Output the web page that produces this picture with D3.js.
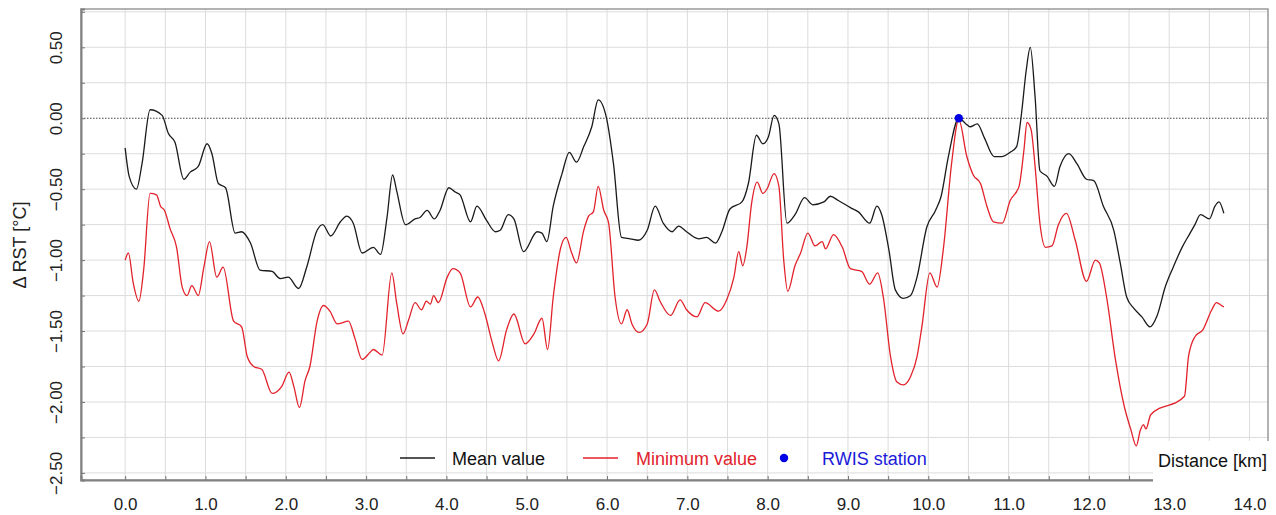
<!DOCTYPE html>
<html lang="en">
  <head>
    <meta charset="UTF-8" />
    <title>Delta RST along route</title>
    <script src="https://d3js.org/d3.v7.min.js"></script>
    <style>
      body {
        margin: 0;
        background-color: white;
      }
      svg {
        display: block;
        font-family: "Liberation Sans", Arial, sans-serif;
      }
      .grid line {
        stroke: #dcdcdc;
        stroke-width: 1px;
      }
      .tick text {
        font-size: 17px;
        fill: #222;
      }
    </style>
  </head>
  <body>
    <svg id="chart" width="1276" height="515"></svg>
    <script>
      // Mean value series (km, delta RST)
      const meanKm = [
        0.0, 0.05, 0.14, 0.21, 0.31, 0.46, 0.54, 0.62, 0.73, 0.81, 0.91, 1.02, 1.08, 1.16, 1.25, 1.37, 1.45, 1.56,
        1.68, 1.83, 1.93, 2.03, 2.16, 2.26, 2.39, 2.46, 2.56, 2.68, 2.76, 2.84, 2.95, 3.09, 3.18, 3.26, 3.33, 3.38,
        3.49, 3.61, 3.67, 3.76, 3.85, 3.92, 4.03, 4.11, 4.17, 4.3, 4.38, 4.5, 4.61, 4.67, 4.77, 4.84, 4.96, 5.13,
        5.19, 5.25, 5.33, 5.44, 5.53, 5.62, 5.71, 5.81, 5.89, 5.99, 6.08, 6.18, 6.29, 6.39, 6.5, 6.6, 6.7, 6.81,
        6.89, 6.99, 7.14, 7.24, 7.35, 7.43, 7.53, 7.68, 7.76, 7.86, 7.94, 8.01, 8.08, 8.14, 8.24, 8.34, 8.46, 8.56,
        8.7, 8.78, 8.88, 9.03, 9.13, 9.27, 9.36, 9.42, 9.51, 9.59, 9.69, 9.78, 9.86, 9.98, 10.09, 10.16, 10.25,
        10.38, 10.47, 10.52, 10.61, 10.7, 10.82, 10.92, 11.02, 11.1, 11.16, 11.22, 11.27, 11.33, 11.39, 11.48,
        11.57, 11.64, 11.75, 11.85, 11.97, 12.06, 12.18, 12.31, 12.39, 12.47, 12.56, 12.66, 12.76, 12.85, 12.95,
        13.05, 13.16, 13.26, 13.32, 13.39, 13.5, 13.57, 13.62, 13.68,
      ];
      const meanVal = [
        -0.21, -0.41, -0.5, -0.32, 0.06, 0.02, -0.11, -0.17, -0.43, -0.38, -0.34, -0.18, -0.25, -0.46, -0.49, -0.81,
        -0.8, -0.88, -1.07, -1.08, -1.13, -1.12, -1.2, -1.05, -0.79, -0.75, -0.83, -0.73, -0.69, -0.74, -0.95, -0.91,
        -0.96, -0.7, -0.4, -0.51, -0.75, -0.71, -0.7, -0.65, -0.71, -0.65, -0.49, -0.52, -0.54, -0.73, -0.62, -0.72,
        -0.8, -0.79, -0.68, -0.71, -0.94, -0.8, -0.81, -0.87, -0.62, -0.39, -0.24, -0.31, -0.2, -0.06, 0.13, 0.01,
        -0.32, -0.84, -0.85, -0.86, -0.79, -0.62, -0.74, -0.8, -0.76, -0.8, -0.85, -0.84, -0.88, -0.8, -0.64, -0.59,
        -0.46, -0.12, -0.18, -0.13, 0.02, -0.04, -0.74, -0.68, -0.56, -0.61, -0.59, -0.55, -0.58, -0.63, -0.66,
        -0.74, -0.62, -0.68, -0.93, -1.21, -1.27, -1.25, -1.12, -0.77, -0.65, -0.55, -0.27, 0.0, -0.04, -0.06, -0.04,
        -0.14, -0.27, -0.27, -0.24, -0.2, 0.03, 0.34, 0.5, 0.15, -0.37, -0.41, -0.48, -0.34, -0.25, -0.32, -0.43,
        -0.44, -0.62, -0.79, -1.02, -1.26, -1.34, -1.4, -1.47, -1.39, -1.19, -1.05, -0.91, -0.81, -0.75, -0.68,
        -0.71, -0.62, -0.59, -0.67,
      ];

      // Minimum value series (km, delta RST)
      const minKm = [
        0.0, 0.04, 0.1, 0.17, 0.23, 0.31, 0.39, 0.44, 0.49, 0.56, 0.64, 0.71, 0.77, 0.83, 0.91, 0.98, 1.05, 1.14,
        1.22, 1.35, 1.45, 1.52, 1.6, 1.7, 1.83, 1.95, 2.04, 2.1, 2.17, 2.24, 2.3, 2.39, 2.47, 2.55, 2.64, 2.78, 2.86,
        2.95, 3.05, 3.09, 3.2, 3.32, 3.38, 3.46, 3.53, 3.61, 3.69, 3.75, 3.8, 3.84, 3.9, 4.01, 4.08, 4.17, 4.3, 4.39,
        4.48, 4.57, 4.65, 4.75, 4.84, 4.98, 5.09, 5.19, 5.26, 5.33, 5.42, 5.49, 5.56, 5.62, 5.71, 5.77, 5.83, 5.89,
        5.96, 6.02, 6.1, 6.18, 6.25, 6.31, 6.4, 6.5, 6.59, 6.66, 6.79, 6.91, 6.99, 7.12, 7.22, 7.39, 7.49, 7.58,
        7.64, 7.69, 7.74, 7.8, 7.87, 7.94, 7.99, 8.08, 8.14, 8.2, 8.25, 8.34, 8.41, 8.5, 8.59, 8.68, 8.72, 8.82, 8.93,
        9.03, 9.17, 9.27, 9.37, 9.44, 9.53, 9.61, 9.69, 9.78, 9.86, 9.92, 10.02, 10.11, 10.19, 10.29, 10.38, 10.48,
        10.56, 10.65, 10.73, 10.81, 10.92, 11.02, 11.13, 11.19, 11.23, 11.28, 11.33, 11.39, 11.46, 11.54, 11.62,
        11.72, 11.83, 11.97, 12.08, 12.13, 12.22, 12.33, 12.44, 12.52, 12.59, 12.64, 12.68, 12.71, 12.77, 13.19,
        13.24, 13.32, 13.42, 13.53, 13.59, 13.65, 13.68,
      ];
      const minVal = [
        -1.0, -0.95, -1.16, -1.29, -1.07, -0.53, -0.54, -0.62, -0.65, -0.78, -0.91, -1.19, -1.25, -1.18, -1.25,
        -1.05, -0.87, -1.12, -1.05, -1.43, -1.47, -1.68, -1.75, -1.77, -1.94, -1.89, -1.79, -1.89, -2.04, -1.85,
        -1.75, -1.43, -1.32, -1.36, -1.45, -1.43, -1.55, -1.7, -1.65, -1.63, -1.67, -1.09, -1.3, -1.52, -1.42, -1.3,
        -1.35, -1.29, -1.31, -1.25, -1.3, -1.12, -1.06, -1.09, -1.33, -1.26, -1.38, -1.58, -1.71, -1.49, -1.38,
        -1.59, -1.52, -1.41, -1.63, -1.26, -0.92, -0.84, -0.95, -1.02, -0.79, -0.69, -0.66, -0.48, -0.65, -0.74,
        -1.26, -1.45, -1.35, -1.45, -1.51, -1.45, -1.21, -1.29, -1.39, -1.28, -1.35, -1.4, -1.3, -1.36, -1.28, -1.12,
        -0.94, -1.04, -0.91, -0.6, -0.45, -0.53, -0.5, -0.39, -0.48, -1.0, -1.22, -1.04, -0.95, -0.81, -0.9, -0.87,
        -0.92, -0.82, -0.91, -1.06, -1.08, -1.17, -1.09, -1.26, -1.68, -1.86, -1.88, -1.82, -1.68, -1.47, -1.09,
        -1.19, -0.91, -0.32, -0.01, -0.27, -0.4, -0.46, -0.62, -0.73, -0.74, -0.58, -0.48, -0.23, -0.03, -0.08,
        -0.34, -0.74, -0.91, -0.9, -0.75, -0.67, -0.86, -1.15, -1.0, -1.02, -1.26, -1.7, -2.03, -2.19, -2.31, -2.2,
        -2.16, -2.19, -2.09, -1.96, -1.68, -1.54, -1.49, -1.35, -1.3, -1.32, -1.33,
      ];

      // RWIS station position
      const stationKm = [10.38];
      const stationVal = [0.0];

      const xTicks = d3.range(0, 14.01, 0.5);
      const yTicks = d3.range(-2.5, 0.76, 0.25);

      const svg = d3.select("#chart");
      const plotLeft = 81,
        plotRight = 1268,
        plotTop = 9,
        plotBottom = 480;

      const x = d3.scaleLinear().domain([-0.55, 14.23]).range([plotLeft, plotRight]);
      const y = d3.scaleLinear().domain([0.77, -2.55]).range([plotTop, plotBottom]);

      // grid
      const grid = svg.append("g").attr("class", "grid");
      grid
        .selectAll(".vx")
        .data(xTicks)
        .enter()
        .append("line")
        .attr("x1", (d) => x(d))
        .attr("x2", (d) => x(d))
        .attr("y1", plotTop)
        .attr("y2", plotBottom);
      grid
        .selectAll(".hy")
        .data(yTicks.filter((d) => Math.abs(d) > 1e-9))
        .enter()
        .append("line")
        .attr("x1", plotLeft)
        .attr("x2", plotRight)
        .attr("y1", (d) => y(d))
        .attr("y2", (d) => y(d));

      // zero reference line
      svg
        .append("line")
        .attr("x1", plotLeft)
        .attr("x2", plotRight)
        .attr("y1", y(0))
        .attr("y2", y(0))
        .attr("stroke", "#444")
        .attr("stroke-width", 1)
        .attr("stroke-dasharray", "1.5,1.5");

      // frame
      svg
        .append("rect")
        .attr("x", plotLeft)
        .attr("y", plotTop)
        .attr("width", plotRight - plotLeft)
        .attr("height", plotBottom - plotTop)
        .attr("fill", "none")
        .attr("stroke", "#999")
        .attr("stroke-width", 1.5);

      // x axis
      const xAxis = svg
        .append("g")
        .attr("transform", `translate(0,${plotBottom})`)
        .call(
          d3
            .axisBottom(x)
            .tickValues(xTicks)
            .tickSize(-4)
            .tickPadding(18)
            .tickFormat((d) => (d % 1 === 0 ? d3.format(".1f")(d) : ""))
        );
      xAxis.select(".domain").attr("stroke", "#808080").attr("stroke-width", 2);
      xAxis.selectAll(".tick line").attr("stroke", "#777");

      // y axis
      const yAxis = svg
        .append("g")
        .attr("transform", `translate(${plotLeft},0)`)
        .call(
          d3
            .axisLeft(y)
            .tickValues(yTicks)
            .tickSize(-4)
            .tickFormat((d) => (Math.abs((d * 2) % 1) < 1e-9 ? d3.format(".2f")(d) : ""))
        );
      yAxis.select(".domain").attr("stroke", "#808080").attr("stroke-width", 2);
      yAxis.selectAll(".tick line").attr("stroke", "#777");
      yAxis
        .selectAll(".tick text")
        .attr("x", null)
        .attr("dy", null)
        .attr("text-anchor", "middle")
        .attr("transform", "translate(-19,0) rotate(-90)");

      // series
      const line = d3.line().curve(d3.curveMonotoneX);
      svg
        .append("path")
        .attr("d", line(minKm.map((k, i) => [x(k), y(minVal[i])])))
        .attr("fill", "none")
        .attr("stroke", "#e2222b")
        .attr("stroke-width", 1.3);
      svg
        .append("path")
        .attr("d", line(meanKm.map((k, i) => [x(k), y(meanVal[i])])))
        .attr("fill", "none")
        .attr("stroke", "#1a1a1a")
        .attr("stroke-width", 1.3);

      svg
        .selectAll(".station")
        .data(stationKm)
        .enter()
        .append("circle")
        .attr("cx", (d) => x(d))
        .attr("cy", (d, i) => y(stationVal[i]))
        .attr("r", 4.2)
        .attr("fill", "#0000e6");

      // y axis title
      svg
        .append("text")
        .attr("transform", "translate(26,245) rotate(-90)")
        .attr("text-anchor", "middle")
        .attr("font-size", 18)
        .attr("fill", "#222")
        .text("Δ RST [°C]");

      // x axis title in white box
      svg.append("rect").attr("x", 1153).attr("y", 441).attr("width", 123).attr("height", 44).attr("fill", "white");
      svg.append("text").attr("x", 1158).attr("y", 467).attr("font-size", 18).attr("fill", "#111").text("Distance [km]");

      // legend
      const legend = svg.append("g").attr("font-size", 18);
      legend.append("line").attr("x1", 400).attr("x2", 435).attr("y1", 458).attr("y2", 458).attr("stroke", "#1a1a1a").attr("stroke-width", 1.3);
      legend.append("text").attr("x", 452).attr("y", 465).attr("fill", "#111").text("Mean value");
      legend.append("line").attr("x1", 583).attr("x2", 618).attr("y1", 458).attr("y2", 458).attr("stroke", "#e2222b").attr("stroke-width", 1.3);
      legend.append("text").attr("x", 636).attr("y", 465).attr("fill", "#e2222b").text("Minimum value");
      legend.append("circle").attr("cx", 784).attr("cy", 458).attr("r", 4.2).attr("fill", "#0000e6");
      legend.append("text").attr("x", 822).attr("y", 465).attr("fill", "#1a1ad8").text("RWIS station");
    </script>
  </body>
</html>
